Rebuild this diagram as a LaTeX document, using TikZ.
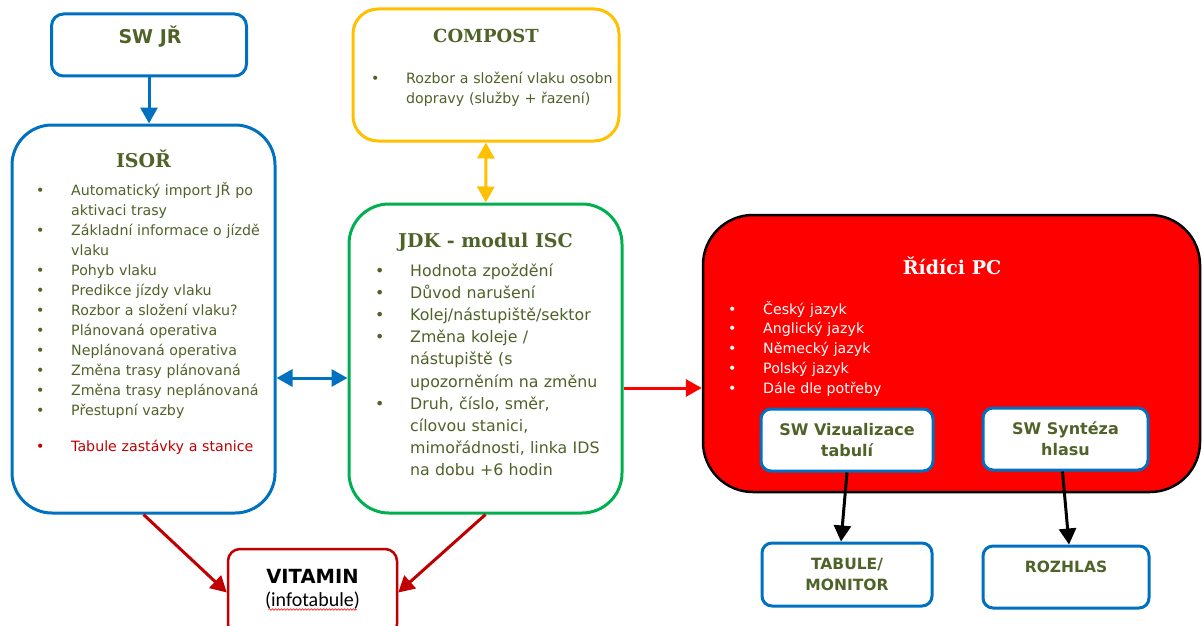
\documentclass[tikz,border=0pt]{standalone}
\usepackage{fontspec}
\setmainfont{DejaVu Sans}
\newfontfamily\titlefont{DejaVu Serif}
\newfontfamily\calfont{Carlito}
\usetikzlibrary{arrows.meta,decorations.pathmorphing}
\definecolor{blu}{HTML}{0070C0}
\definecolor{grn}{HTML}{00B050}
\definecolor{ylw}{HTML}{FFC000}
\definecolor{drd}{HTML}{C00000}
\definecolor{olv}{HTML}{4F6228}
\newcommand{\bul}[1]{\noindent\hangindent=35pt\hangafter=1\makebox[35pt][l]{•}#1\par}

\begin{document}
\begin{tikzpicture}[x=1pt,y=-1pt]
    \clip (0,0) rectangle (1202,626);

    \tikzstyle{box}=[draw, line width=3pt, fill=white, inner sep=0pt]
    \tikzstyle{title}=[font=\titlefont\bfseries\fontsize{19}{22}\selectfont, text=olv, anchor=base]
    \tikzstyle{list}=[font=\fontsize{14.2}{20}\selectfont, text=olv, anchor=base west, inner sep=0pt, text width=260pt, align=left]
    \tikzstyle{swbox}=[box, draw=blu, rounded corners=10pt, font=\bfseries\fontsize{16}{21}\selectfont, text=olv, align=center]
    \tikzstyle{outbox}=[swbox, font=\bfseries\fontsize{15.5}{21}\selectfont]

    % boxes
    \node[box, draw=blu, rounded corners=12pt, minimum width=195pt, minimum height=62pt] (swjr) at (149,45) {};
    \node[box, draw=blu, rounded corners=40pt, minimum width=263pt, minimum height=388pt] (isor) at (143.5,319) {};
    \node[box, draw=ylw, rounded corners=25pt, minimum width=266pt, minimum height=132pt] (compost) at (486,75) {};
    \node[box, draw=grn, rounded corners=40pt, minimum width=273pt, minimum height=309pt] (jdk) at (485.5,358.5) {};
    \node[box, draw=black, fill=red, line width=2.5pt, rounded corners=50pt, minimum width=497pt, minimum height=277pt] (ridici) at (951.5,353.5) {};
    \node[box, draw=drd, line width=2.5pt, rounded corners=12pt, minimum width=169pt, minimum height=87pt] (vitamin) at (312.5,592.5) {};

    \node[swbox, minimum width=172pt, minimum height=62pt] (swviz) at (847,440) {SW Vizualizace\\tabulí};
    \node[swbox, minimum width=165pt, minimum height=62pt] (swsyn) at (1065.5,439) {SW Syntéza\\hlasu};
    \node[outbox, minimum width=170pt, minimum height=63pt] (tabule) at (847,574.5) {TABULE/\\MONITOR};
    \node[outbox, minimum width=166pt, minimum height=62pt] (rozhlas) at (1066,577) {ROZHLAS\\\mbox{}};

    % titles
    \node[title, font=\bfseries\fontsize{19}{22}\selectfont] (swjrtitle) at (150,44) {SW JŘ};
    \node[title] (isortitle) at (143.5,167) {ISOŘ};
    \node[title, font=\titlefont\bfseries\fontsize{18}{22}\selectfont] (composttitle) at (486,43) {COMPOST};
    \node[title] (jdktitle) at (485.5,247) {JDK - modul ISC};
    \node[title, text=white] (riditle) at (952,274) {Řídíci PC};
    \node[anchor=base, font=\bfseries\fontsize{19.5}{22}\selectfont] (vittitle) at (312.5,583) {VITAMIN};
    \node[anchor=base, font=\calfont\fontsize{20}{22}\selectfont] (vitsub) at (312.5,606) {(infotabule)};
    \draw[red, line width=0.6pt, decorate, decoration={snake, amplitude=0.8pt, segment length=3pt}]
        ([xshift=7pt,yshift=-3.5pt]vitsub.base west) -- ([xshift=-7pt,yshift=-3.5pt]vitsub.base east);

    % lists
    \node[list] (isorlist) at (36,195) {%
        \bul{Automatický import JŘ po\newline aktivaci trasy}
        \bul{Základní informace o jízdě\newline vlaku}
        \bul{Pohyb vlaku}
        \bul{Predikce jízdy vlaku}
        \bul{Rozbor a složení vlaku?}
        \bul{Plánovaná operativa}
        \bul{Neplánovaná operativa}
        \bul{Změna trasy plánovaná}
        \bul{Změna trasy neplánovaná}
        \bul{Přestupní vazby}
        \vspace{16pt}{\color{drd}\bul{Tabule zastávky a stanice}}};
    \node[list] (compostlist) at (371,84) {%
        \bul{Rozbor a složení vlaku osobn\newline dopravy (služby + řazení)}};
    \node[list, font=\fontsize{15.8}{22.2}\selectfont] (jdklist) at (375,276) {%
        \bul{Hodnota zpoždění}
        \bul{Důvod narušení}
        \bul{Kolej/nástupiště/sektor}
        \bul{Změna koleje /\newline nástupiště (s\newline upozorněním na změnu}
        \bul{Druh, číslo, směr,\newline cílovou stanici,\newline mimořádnosti, linka IDS\newline na dobu +6 hodin}};
    \node[list, text=white, font=\fontsize{14.2}{19.8}\selectfont] (ridlist) at (728,314) {%
        \bul{Český jazyk}
        \bul{Anglický jazyk}
        \bul{Německý jazyk}
        \bul{Polský jazyk}
        \bul{Dále dle potřeby}};

    % connectors
    \tikzstyle{fwd}=[line width=3pt, -{Triangle[width=17pt,length=16pt]}]
    \tikzstyle{both}=[line width=3pt, {Triangle[width=17pt,length=16pt]}-{Triangle[width=17pt,length=16pt]}]

    \draw[fwd, blu] (swjr.south) -- (swjr.south |- isor.north);
    \draw[both, ylw] (compost) -- (jdk);
    \draw[both, blu] (isor.east |- 0,378) -- (jdk.west |- 0,378);
    \draw[fwd, red] (jdk.east |- 0,388) -- (ridici.west |- 0,388);
    \draw[fwd, drd] (isor.south) -- (vitamin.west);
    \draw[fwd, drd] (jdk.south) -- (vitamin.east);
    \draw[fwd, black] (swviz.south) -- ([xshift=-6pt]tabule.north);
    \draw[fwd, black] ([xshift=-3pt]swsyn.south) -- ([xshift=3pt]rozhlas.north);
\end{tikzpicture}
\end{document}
